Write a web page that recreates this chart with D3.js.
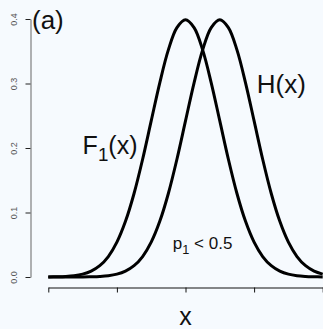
<!DOCTYPE html>
<html>
<head>
<meta charset="utf-8">
<script src="https://cdn.jsdelivr.net/npm/d3@7"></script>
<style>
  html, body { margin: 0; padding: 0; background: #f6fafe; }
  svg { display: block; font-family: "Liberation Sans", Arial, sans-serif; }
</style>
</head>
<body>
<svg id="chart"></svg>
<script>
// grid of x values the two densities were read at
var xVals = [-4, -3.75, -3.5, -3.25, -3, -2.75, -2.5, -2.25, -2, -1.75, -1.5, -1.25, -1, -0.75, -0.5, -0.25,
             0, 0.25, 0.5, 0.75, 1, 1.25, 1.5, 1.75, 2, 2.25, 2.5, 2.75, 3, 3.25, 3.5, 3.75, 4];

// F1(x), peak at x = 0
var f1Vals = [0.0001, 0.0004, 0.0009, 0.0020, 0.0044, 0.0091, 0.0175, 0.0317, 0.0540, 0.0863, 0.1295, 0.1826,
              0.2420, 0.3011, 0.3521, 0.3867, 0.3989, 0.3867, 0.3521, 0.3011, 0.2420, 0.1826, 0.1295, 0.0863,
              0.0540, 0.0317, 0.0175, 0.0091, 0.0044, 0.0020, 0.0009, 0.0004, 0.0001];

// H(x), peak at x = 1
var hVals = [0.0000, 0.0000, 0.0000, 0.0000, 0.0001, 0.0004, 0.0009, 0.0020, 0.0044, 0.0091, 0.0175, 0.0317,
             0.0540, 0.0863, 0.1295, 0.1826, 0.2420, 0.3011, 0.3521, 0.3867, 0.3989, 0.3867, 0.3521, 0.3011,
             0.2420, 0.1826, 0.1295, 0.0863, 0.0540, 0.0317, 0.0175, 0.0091, 0.0044];

var xTicks = [-4, -2, 0, 2, 4];
var yTicks = [0, 0.1, 0.2, 0.3, 0.4];

var width = 323,
    height = 329;

let svg = d3.select("#chart")
    .attr("width", width)
    .attr("height", height);

let x = d3.scaleLinear().domain([-4, 4]).range([48.3, 322.7]),
    y = d3.scaleLinear().domain([0, 0.4]).range([277, 19]);

// x axis, ticks only
let xAxis = svg.append("g")
    .attr("transform", "translate(0,287.5)")
    .call(d3.axisBottom(x).tickValues(xTicks).tickFormat("").tickSize(5).tickSizeOuter(0));
xAxis.select(".domain").attr("stroke", "#111");
xAxis.selectAll(".tick line").attr("stroke", "#111");

// y axis with rotated labels
let yAxis = svg.append("g")
    .attr("transform", "translate(30.5,0)")
    .call(d3.axisLeft(y).tickValues(yTicks).tickFormat(d3.format(".1f")).tickSize(5).tickSizeOuter(0));
yAxis.select(".domain").attr("stroke", "#666");
yAxis.selectAll(".tick line").attr("stroke", "#222");
yAxis.selectAll(".tick text")
    .attr("x", 0)
    .attr("dy", 0)
    .attr("transform", "translate(-14,0) rotate(-90)")
    .attr("text-anchor", "middle")
    .attr("font-size", 9)
    .attr("fill", "#555");

// How to draw the curves
let line = d3.line()
    .curve(d3.curveCatmullRom)
    .x((d, i) => x(xVals[i]))
    .y((d) => y(d));

[f1Vals, hVals].forEach(function(vals) {
    svg.append("path")
        .attr("d", line(vals))
        .attr("fill", "none")
        .attr("stroke", "#000")
        .attr("stroke-width", 3)
        .attr("stroke-linejoin", "round");
});

// labels
let label = function(px, py, main, sub, rest, size) {
    let t = svg.append("text")
        .attr("x", px)
        .attr("y", py)
        .attr("font-size", size)
        .attr("fill", "#111");
    t.append("tspan").text(main);
    if (sub) {
        t.append("tspan").attr("font-size", size * 0.75).attr("dy", size * 0.25).text(sub);
        t.append("tspan").attr("dy", -size * 0.25).text(rest);
    }
    return t;
};

label(32, 29, "(a)", null, null, 26);
label(x(-3.0), y(0.19), "F", "1", "(x)", 25);
label(x(2.08), y(0.286), "H(x)", null, null, 26);
label(x(-0.37), y(0.043), "p", "1", " < 0.5", 17);

svg.append("text")
    .attr("x", x(0))
    .attr("y", 325)
    .attr("text-anchor", "middle")
    .attr("font-size", 25)
    .attr("fill", "#111")
    .text("x");
</script>
</body>
</html>
